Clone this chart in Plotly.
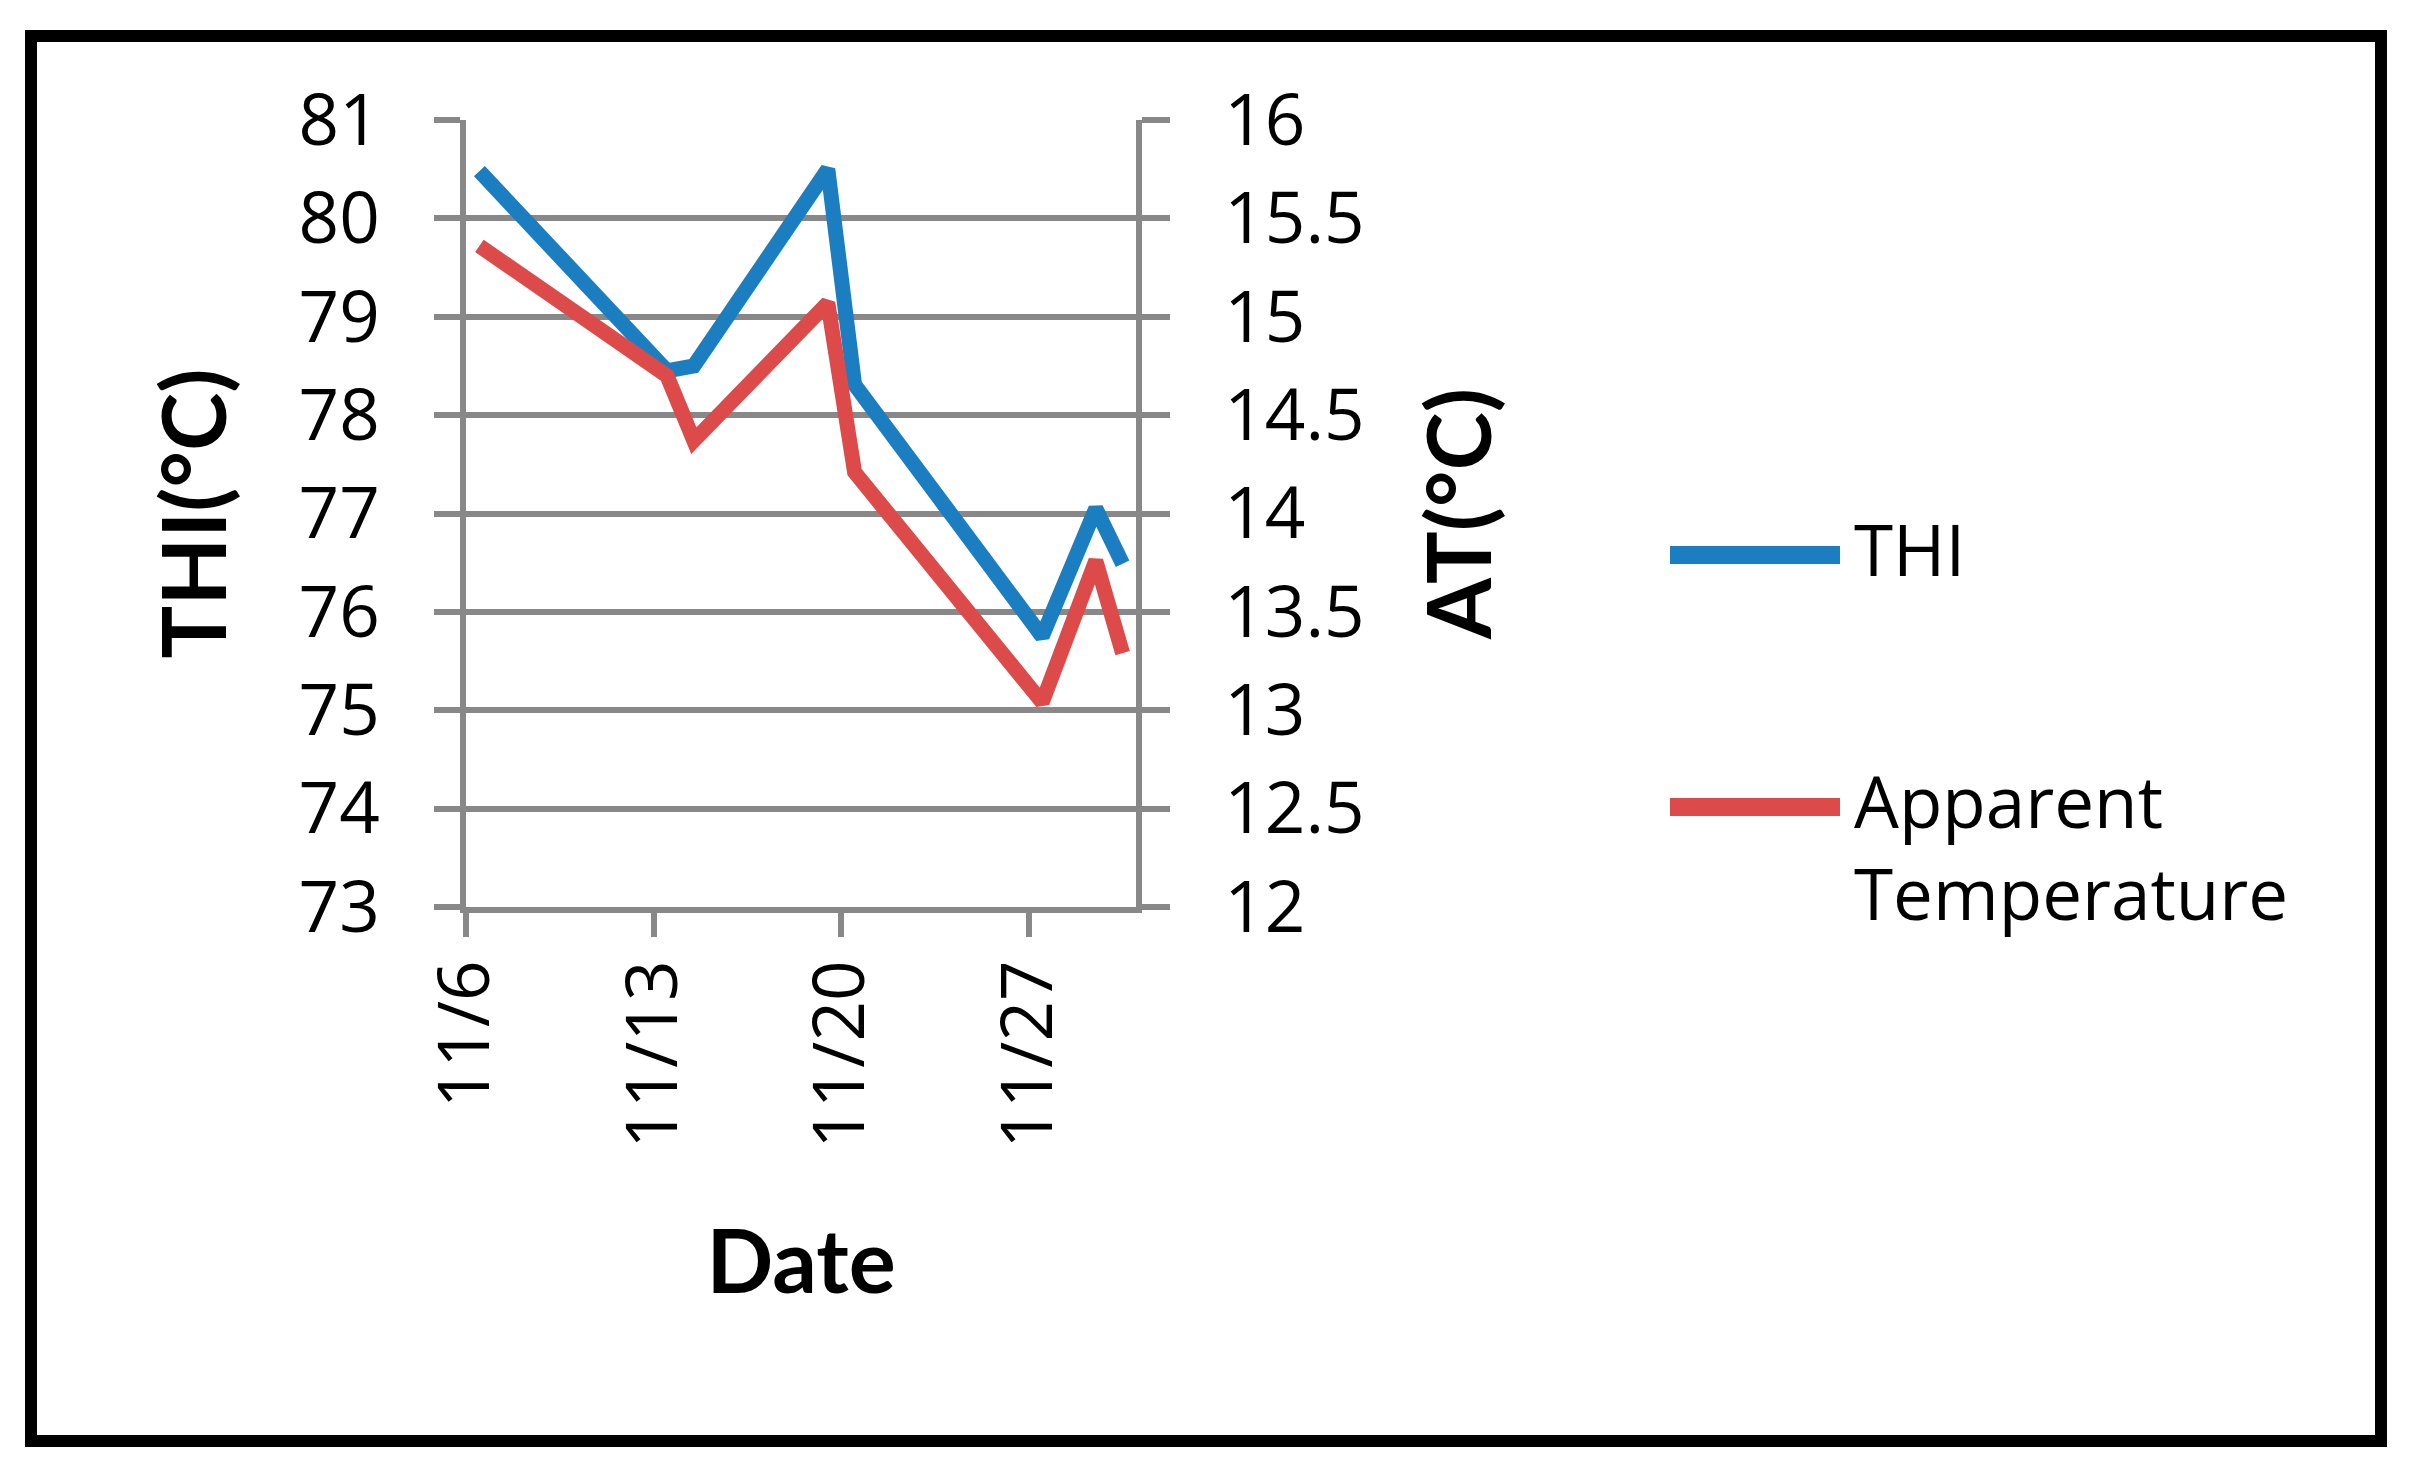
import plotly.graph_objects as go

# data
dates = ["2014-11-06", "2014-11-13", "2014-11-14", "2014-11-19",
         "2014-11-20", "2014-11-27", "2014-11-29", "2014-11-30"]
thi = [80.48, 78.45, 78.5, 80.5, 78.31, 75.75, 77.05, 76.49]
apparent_temp = [15.36, 14.70, 14.37, 15.07, 14.21, 13.04, 13.76, 13.29]

date_ticks = ["2014-11-06", "2014-11-13", "2014-11-20", "2014-11-27"]
date_labels = ["11/6", "11/13", "11/20", "11/27"]
series_names = ["THI", "Apparent<br>Temperature"]

blue = "#1B7EC0"
red = "#DC4B4A"
grey = "#888888"
font = "Open Sans"
title_family = "Lato"

# the page body has an 8px margin, so the figure is 16px smaller than the window
OFF = 8
W, H = 2414 - 2 * OFF, 1465 - 2 * OFF
L, R, T, B = 466, 1136, 120, 907   # plot area, window pixels


def px(x):
    return (x - L) / (R - L)


def py(y):
    return (B - y) / (B - T)


fig = go.Figure()

fig.add_trace(go.Scatter(
    x=dates, y=thi, name=series_names[0], mode="lines",
    xperiod=86400000, xperiodalignment="middle",
    line=dict(color=blue, width=15), showlegend=False,
))
fig.add_trace(go.Scatter(
    x=dates, y=apparent_temp, name=series_names[1], mode="lines",
    xperiod=86400000, xperiodalignment="middle",
    line=dict(color=red, width=15), showlegend=False, yaxis="y2",
))

axis_common = dict(
    ticks="outside", tickwidth=6, tickcolor=grey,
    showline=True, linewidth=6, linecolor=grey, zeroline=False,
    tickfont=dict(family=font, size=71, color="black"),
)
title_font = dict(family=title_family, size=88, weight="bold", color="black")

fig.update_layout(
    width=W, height=H,
    margin=dict(l=L - OFF, r=W - (R - OFF), t=T - OFF, b=H - (B - OFF)),
    paper_bgcolor="white", plot_bgcolor="white",
    xaxis=dict(
        type="date", range=["2014-11-06", "2014-12-01"],
        tickvals=date_ticks, ticktext=date_labels, tickangle=-90,
        ticklen=24, showgrid=False, ticklabelstandoff=-5,
        title=dict(text="Date", standoff=86, font=title_font),
        **axis_common,
    ),
    yaxis=dict(
        range=[73, 81], dtick=1, ticklen=26, ticklabelstandoff=40,
        showgrid=True, gridcolor=grey, gridwidth=6,
        title=dict(text="THI(°C)", standoff=45, font=title_font),
        **axis_common,
    ),
    yaxis2=dict(
        overlaying="y", side="right", range=[12, 16], dtick=0.5,
        ticklen=28, ticklabelstandoff=40, showgrid=False,
        title=dict(text="AT(°C)", standoff=68, font=title_font),
        **axis_common,
    ),
)

# outer frame
fig.add_shape(type="rect", xref="paper", yref="paper",
              x0=px(31), x1=px(2381), y0=py(36), y1=py(1441),
              line=dict(color="black", width=12))

# legend drawn by hand so the keys have the long Excel-style lines
legend_rows = [(555, blue), (807, red)]
for (y, color), name in zip(legend_rows, series_names):
    fig.add_shape(type="line", xref="paper", yref="paper",
                  x0=px(1670), x1=px(1840), y0=py(y), y1=py(y),
                  line=dict(color=color, width=18))
    fig.add_annotation(xref="paper", yref="paper", x=px(1852), y=py(y - 57),
                       text=name, showarrow=False, xanchor="left", yanchor="top",
                       align="left",
                       font=dict(family=font, size=71, color="black"))

fig.write_html("out.html")
